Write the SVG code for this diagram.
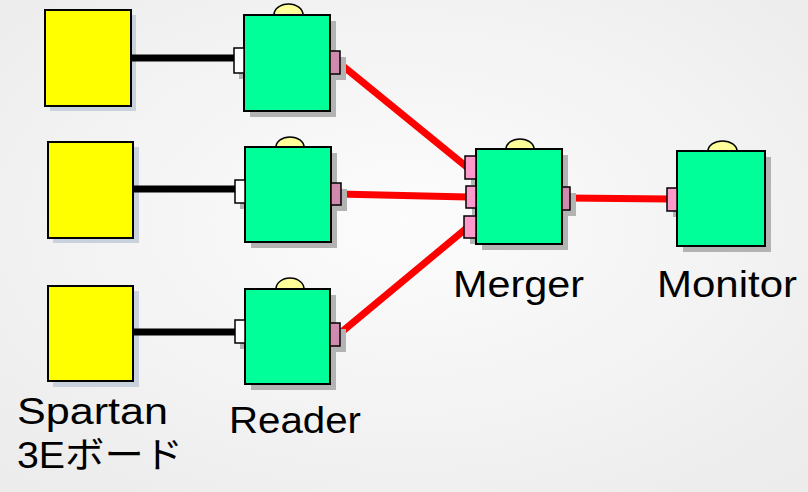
<svg xmlns="http://www.w3.org/2000/svg" width="808" height="492" viewBox="0 0 808 492">
<defs>
<radialGradient id="bg" cx="50%" cy="45%" r="70%">
<stop offset="0" stop-color="#fcfcfc"/>
<stop offset="1" stop-color="#ececec"/>
</radialGradient>
<style>
.board{fill:#ffff00;stroke:#000;stroke-width:2}
.bshadow{fill:#c9d1dd}
.node{fill:#00ff99;stroke:#000;stroke-width:2}
.shadow{fill:#b3b3b3}
.dome{fill:#ffff99;stroke:#000;stroke-width:1.5}
.pin{fill:#ffffff;stroke:#000;stroke-width:1.5}
.pout{fill:#d08aae;stroke:#000;stroke-width:1.5}
.pin2{fill:#ff99cc;stroke:#000;stroke-width:1.5}
.wire{stroke:#000;stroke-width:7;fill:none}
.red{stroke:#ff0000;stroke-width:7;fill:none}
.lbl{font-family:"Liberation Sans","Noto Sans CJK JP",sans-serif;font-size:36px;fill:#000}
</style>
</defs>
<rect width="808" height="492" fill="url(#bg)"/>
<g id="board1">
<rect class="bshadow" x="50" y="15" width="86" height="96"/>
<rect class="board" x="45" y="10" width="86" height="96"/>
</g>
<g id="board2">
<rect class="bshadow" x="53" y="147" width="86" height="96"/>
<rect class="board" x="48" y="142" width="85" height="96"/>
</g>
<g id="board3">
<rect class="bshadow" x="53" y="291" width="86" height="96"/>
<rect class="board" x="48" y="286" width="85" height="95"/>
</g>
<g id="connectors">
<line class="wire" x1="132" y1="58" x2="234" y2="58"/>
<line class="wire" x1="134" y1="189" x2="236" y2="189"/>
<line class="wire" x1="134" y1="332" x2="236" y2="332"/>
<line class="red" x1="338" y1="62" x2="468" y2="168"/>
<line class="red" x1="338" y1="194" x2="468" y2="197"/>
<line class="red" x1="338" y1="335" x2="468" y2="227"/>
<line class="red" x1="566" y1="198" x2="670" y2="199"/>
</g>
<g id="reader1">
<rect class="shadow" x="250" y="21" width="86" height="96"/>
<rect class="shadow" x="239" y="54" width="10" height="25"/>
<rect class="shadow" x="336" y="57" width="10" height="23"/>
<path class="dome" d="M274,15 A14.5,11 0 0 1 303,15 Z"/>
<rect class="node" x="244" y="15" width="86" height="96"/>
<rect class="pin" x="234" y="48" width="10" height="25"/>
<rect class="pout" x="330" y="51" width="10" height="23"/>
</g>
<g id="reader2">
<rect class="shadow" x="251" y="153" width="86" height="95"/>
<rect class="shadow" x="240" y="186" width="10" height="23"/>
<rect class="shadow" x="337" y="189" width="10" height="22"/>
<path class="dome" d="M276,147 A14,10 0 0 1 304,147 Z"/>
<rect class="node" x="245" y="147" width="86" height="95"/>
<rect class="pin" x="235" y="180" width="10" height="23"/>
<rect class="pout" x="331" y="183" width="10" height="22"/>
</g>
<g id="reader3">
<rect class="shadow" x="251" y="295" width="85" height="95"/>
<rect class="shadow" x="240" y="326" width="10" height="23"/>
<rect class="shadow" x="336" y="329" width="10" height="23"/>
<path class="dome" d="M276,289 A14,11 0 0 1 304,289 Z"/>
<rect class="node" x="245" y="289" width="85" height="95"/>
<rect class="pin" x="235" y="320" width="10" height="23"/>
<rect class="pout" x="330" y="323" width="10" height="23"/>
</g>
<g id="merger">
<rect class="shadow" x="482" y="155" width="86" height="95"/>
<rect class="shadow" x="471" y="162" width="10" height="23"/>
<rect class="shadow" x="472" y="192" width="10" height="23"/>
<rect class="shadow" x="470" y="222" width="10" height="22"/>
<rect class="shadow" x="568" y="193" width="8" height="23"/>
<path class="dome" d="M506,149 A14,10 0 0 1 534,149 Z"/>
<rect class="node" x="476" y="149" width="86" height="95"/>
<rect class="pin2" x="465" y="156" width="11" height="23"/>
<rect class="pin2" x="466" y="186" width="10" height="22"/>
<rect class="pin2" x="464" y="216" width="12" height="22"/>
<rect class="pout" x="562" y="187" width="8" height="23"/>
</g>
<g id="monitor">
<rect class="shadow" x="683" y="157" width="88" height="95"/>
<rect class="shadow" x="673" y="194" width="10" height="23"/>
<path class="dome" d="M708,151 A14.5,10 0 0 1 737,151 Z"/>
<rect class="node" x="677" y="151" width="88" height="95"/>
<rect class="pin2" x="667" y="188" width="10" height="23"/>
</g>
<g id="labels">
<text class="lbl" x="17" y="424" textLength="151" lengthAdjust="spacingAndGlyphs">Spartan</text>
<text class="lbl" x="17" y="468" textLength="166" lengthAdjust="spacingAndGlyphs">3Eボード</text>
<text class="lbl" x="229" y="433" textLength="132" lengthAdjust="spacingAndGlyphs">Reader</text>
<text class="lbl" x="453" y="297" textLength="131" lengthAdjust="spacingAndGlyphs">Merger</text>
<text class="lbl" x="657" y="297" textLength="140" lengthAdjust="spacingAndGlyphs">Monitor</text>
</g>
</svg>
